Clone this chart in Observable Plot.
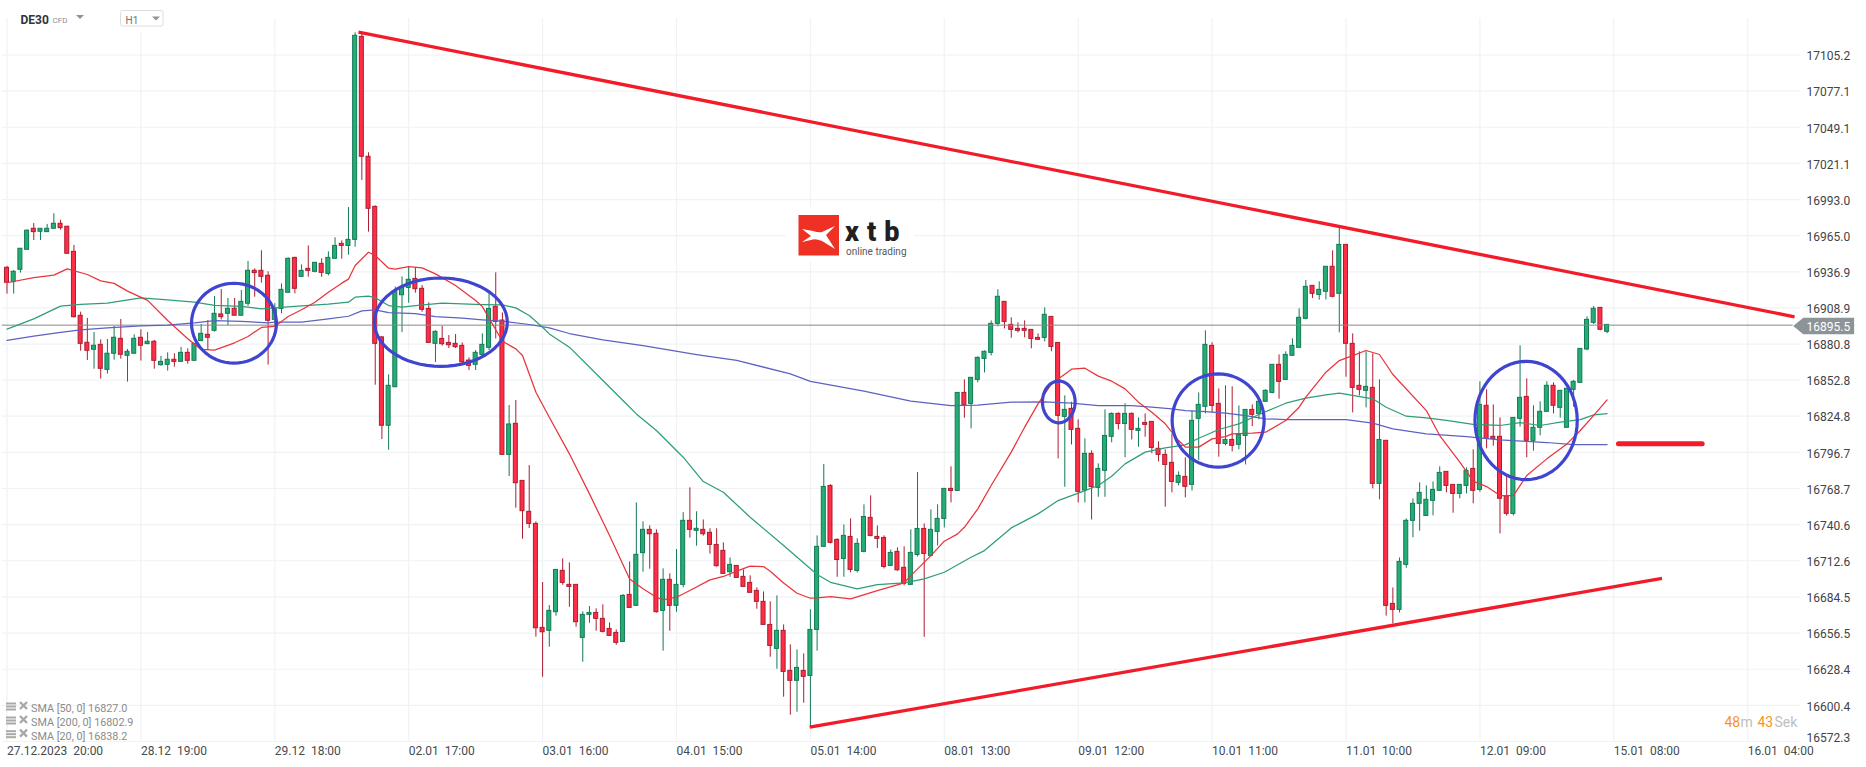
<!DOCTYPE html>
<html><head><meta charset="utf-8">
<script src="https://cdn.jsdelivr.net/npm/d3@7"></script>
<script src="https://cdn.jsdelivr.net/npm/@observablehq/plot@0.6"></script>
<style>html,body{margin:0;padding:0;background:#fff}svg{display:block}</style>
</head><body><div id="chart"></div>
<script>
const opens=[16940.0,16928.9,16938.5,16954.0,16970.3,16968.0,16967.7,16970.3,16974.2,16971.9,
16952.4,16902.8,16881.8,16876.4,16880.2,16860.8,16873.3,16884.9,16871.7,16873.3,
16885.7,16880.8,16882.6,16864.4,16864.7,16868.6,16867.0,16874.0,16867.8,16883.1,
16888.0,16891.1,16903.8,16904.3,16908.2,16902.8,16912.1,16937.7,16937.7,16933.8,
16899.6,16908.1,16920.6,16947.7,16933.0,16939.2,16936.9,16943.1,16935.3,16947.0,
16958.6,16957.0,16961.7,17119.3,17026.2,16987.3,16886.0,16817.4,16847.3,16918.7,
16924.4,16931.4,16923.7,16908.1,16881.0,16884.8,16881.7,16881.0,16879.4,16868.0,
16864.7,16872.4,16877.9,16909.7,16899.1,16794.8,16818.9,16774.6,16750.6,16741.2,
16660.5,16658.2,16672.7,16704.8,16693.9,16693.9,16652.7,16670.6,16672.1,16667.5,
16659.7,16656.6,16649.6,16686.1,16677.6,16718.5,16736.6,16733.5,16673.7,16697.8,
16677.6,16693.9,16743.6,16735.8,16736.6,16734.3,16724.9,16720.3,16703.7,16708.6,
16700.1,16695.4,16689.2,16680.7,16662.8,16644.2,16658.2,16627.1,16619.4,16627.1,
16623.2,16658.9,16723.4,16770.7,16728.8,16714.0,16731.1,16704.7,16719.5,16745.9,
16731.1,16730.3,16708.6,16719.5,16707.1,16693.9,16717.1,16737.3,16716.4,16735.0,
16745.1,16768.4,16766.8,16842.9,16834.4,16853.0,16869.3,16874.0,16896.5,16913.6,
16895.7,16892.6,16892.6,16891.8,16885.6,16885.6,16901.9,16881.7,16824.3,16830.5,
16815.0,16767.1,16795.6,16769.2,16782.4,16808.8,16826.6,16818.8,16826.6,16813.4,
16819.6,16820.4,16799.5,16794.8,16788.6,16773.1,16777.7,16771.5,16822.8,16832.1,
16879.4,16834.4,16803.3,16806.4,16802.6,16809.5,16829.7,16826.6,16836.0,16842.9,
16864.7,16853.0,16871.7,16877.9,16900.4,16926.0,16919.0,16921.4,16940.8,16919.8,
16957.8,16881.0,16848.4,16844.5,16846.8,16772.3,16805.7,16679.1,16674.5,16709.4,
16743.6,16756.8,16747.4,16759.1,16766.9,16781.6,16771.5,16764.5,16770.7,16783.9,
16767.6,16832.9,16808.8,16808.8,16762.7,16749.0,16822.8,16839.8,16805.7,16815.8,
16828.2,16848.4,16831.3,16815.8,16845.3,16850.7,16876.6,16897.3,16908.9,16890.3];
const closes=[16928.4,16936.9,16954.8,16968.8,16967.7,16970.3,16970.3,16974.2,16970.8,16950.9,
16901.7,16881.0,16875.6,16879.5,16861.6,16873.3,16885.7,16872.5,16874.8,16884.9,
16879.5,16882.6,16867.8,16867.0,16868.6,16867.0,16874.0,16867.8,16881.0,16888.8,
16885.7,16904.3,16901.7,16908.2,16902.8,16913.6,16937.7,16935.9,16933.0,16898.9,
16908.2,16922.9,16947.0,16923.7,16937.6,16937.6,16943.9,16936.1,16947.7,16957.0,
16957.0,16961.7,17120.1,17026.2,16985.8,16881.0,16817.4,16848.4,16921.1,16925.0,
16930.7,16923.4,16907.4,16881.7,16890.3,16880.7,16879.9,16878.4,16866.5,16863.9,
16874.0,16880.2,16908.1,16898.0,16794.8,16818.4,16772.8,16751.1,16741.2,16660.2,
16657.1,16673.7,16705.5,16695.4,16692.3,16664.9,16670.6,16672.1,16667.5,16657.4,
16654.3,16648.9,16685.3,16676.0,16717.2,16736.6,16733.2,16672.7,16697.8,16677.6,
16693.9,16743.6,16736.6,16737.4,16733.2,16724.9,16708.4,16702.4,16709.4,16699.3,
16692.3,16687.7,16680.7,16662.8,16646.5,16658.2,16626.3,16619.4,16629.4,16622.5,
16658.9,16723.4,16769.9,16726.5,16713.2,16731.9,16705.5,16725.7,16746.6,16731.9,
16729.6,16707.8,16718.7,16705.2,16694.6,16718.7,16737.3,16717.9,16736.6,16745.1,
16768.4,16766.8,16842.9,16833.6,16854.6,16870.1,16874.8,16896.5,16917.5,16898.0,
16891.8,16891.1,16891.1,16884.8,16884.1,16903.5,16878.6,16825.1,16829.7,16814.2,
16766.1,16795.6,16769.9,16783.9,16809.5,16826.6,16818.8,16826.6,16814.2,16815.0,
16818.1,16800.2,16794.8,16787.0,16773.8,16778.5,16770.0,16821.2,16833.6,16880.2,
16832.8,16803.3,16806.4,16801.8,16810.3,16829.7,16825.9,16836.0,16844.5,16864.7,
16851.5,16872.4,16879.4,16901.2,16925.2,16919.8,16922.9,16940.8,16917.5,16957.8,
16881.0,16846.8,16845.3,16847.6,16772.3,16806.4,16677.6,16674.5,16711.7,16743.6,
16756.8,16765.3,16759.9,16767.6,16780.8,16770.7,16764.5,16771.5,16782.4,16766.9,
16833.6,16807.2,16807.2,16760.7,16749.0,16823.5,16839.1,16805.7,16815.8,16828.2,
16848.4,16832.9,16844.5,16846.1,16851.5,16877.1,16899.6,16908.2,16891.9,16895.7];
const highs=[16941.1,16937.9,16954.8,16969.5,16974.4,16970.3,16973.7,16982.0,16976.8,16971.9,
16957.4,16905.6,16900.7,16889.8,16884.1,16884.4,16894.5,16899.9,16876.6,16888.0,
16891.9,16889.8,16883.6,16871.2,16874.0,16873.3,16878.2,16877.1,16881.0,16896.0,
16899.1,16917.8,16923.2,16916.2,16916.2,16922.4,16944.9,16939.2,16953.2,16936.9,
16912.1,16927.5,16947.7,16948.2,16942.3,16957.0,16943.9,16947.0,16952.4,16963.3,
16960.9,16986.8,17122.4,17121.6,17029.3,16988.1,16886.5,16856.9,16925.0,16933.0,
16940.2,16940.2,16926.3,16912.8,16891.1,16894.4,16887.4,16888.2,16881.7,16870.1,
16875.8,16888.7,16919.8,16936.1,16905.0,16833.1,16837.0,16774.6,16786.5,16742.8,
16695.7,16677.8,16705.5,16714.1,16711.0,16693.9,16672.9,16677.1,16675.3,16678.4,
16664.4,16658.9,16686.4,16711.7,16757.5,16742.8,16739.7,16736.6,16706.3,16702.4,
16721.3,16750.0,16769.2,16750.6,16744.3,16737.4,16737.4,16726.5,16714.8,16708.6,
16705.5,16700.9,16691.6,16688.4,16680.7,16685.3,16662.8,16647.3,16643.4,16640.3,
16674.5,16731.9,16787.3,16771.5,16729.6,16740.4,16745.1,16729.6,16756.0,16763.0,
16739.6,16731.9,16721.0,16722.6,16723.4,16736.6,16781.1,16741.2,16752.1,16756.0,
16768.4,16785.5,16842.9,16853.0,16854.6,16870.9,16875.5,16898.8,16922.9,16913.6,
16901.2,16897.3,16898.8,16891.8,16888.7,16908.9,16901.9,16881.7,16840.6,16835.7,
16822.0,16807.2,16797.9,16787.8,16829.7,16827.4,16827.4,16834.4,16827.4,16823.5,
16826.6,16820.4,16804.9,16798.7,16811.1,16781.6,16792.5,16829.0,16842.9,16891.1,
16881.8,16846.0,16848.4,16847.6,16832.8,16829.7,16833.6,16836.0,16845.3,16864.7,
16872.4,16874.8,16884.9,16908.2,16930.2,16926.0,16929.1,16940.8,16953.2,16971.6,
16957.8,16888.7,16874.8,16874.8,16873.2,16853.0,16805.7,16691.5,16714.8,16745.1,
16760.6,16773.1,16770.7,16773.8,16785.5,16781.6,16771.5,16771.5,16784.7,16798.7,
16851.5,16845.3,16833.6,16823.5,16778.8,16823.5,16879.4,16853.8,16832.9,16836.0,
16851.5,16850.7,16844.5,16846.1,16852.5,16877.1,16901.9,16910.0,16908.9,16895.7];
const lows=[16919.6,16919.6,16935.9,16954.0,16961.2,16961.2,16967.7,16970.3,16969.3,16950.9,
16900.9,16875.3,16868.1,16861.3,16853.6,16857.5,16868.3,16869.1,16851.3,16873.3,
16867.6,16880.2,16861.3,16863.7,16859.8,16862.9,16867.0,16865.2,16867.8,16882.8,
16875.8,16890.1,16899.6,16895.0,16902.8,16902.8,16910.0,16917.2,16928.1,16864.5,
16895.0,16904.3,16920.6,16919.8,16932.7,16932.7,16936.1,16932.7,16933.8,16946.7,
16946.7,16949.8,16956.0,17007.8,16967.7,16848.9,16806.7,16798.4,16847.3,16889.8,
16912.5,16920.3,16905.5,16881.7,16866.5,16879.2,16877.3,16877.3,16865.4,16860.3,
16860.3,16872.4,16875.8,16884.8,16794.8,16778.0,16753.4,16729.3,16737.6,16653.3,
16622.2,16645.5,16669.6,16693.6,16676.5,16661.0,16633.8,16664.1,16657.9,16656.6,
16653.8,16647.0,16649.6,16676.0,16677.6,16703.7,16706.0,16671.9,16642.4,16657.9,
16672.7,16691.6,16730.1,16723.9,16731.7,16717.7,16707.6,16702.2,16699.8,16699.3,
16692.3,16687.7,16675.0,16662.8,16637.7,16628.4,16606.7,16592.7,16595.0,16602.0,
16582.9,16642.4,16723.4,16725.7,16699.8,16699.8,16703.2,16703.2,16718.7,16731.1,
16722.1,16706.3,16708.6,16704.5,16693.1,16693.9,16715.6,16653.2,16715.6,16724.1,
16738.1,16757.5,16766.8,16823.2,16815.0,16850.7,16858.4,16871.6,16894.2,16892.6,
16885.4,16889.5,16885.6,16877.1,16884.1,16882.5,16874.8,16791.7,16769.7,16802.5,
16757.5,16757.5,16744.3,16761.9,16761.9,16804.1,16814.2,16792.5,16806.4,16800.7,
16808.5,16795.6,16789.4,16754.2,16765.3,16770.7,16761.4,16766.8,16790.4,16826.6,
16827.4,16793.0,16801.8,16797.1,16798.7,16787.0,16816.8,16822.0,16835.4,16842.2,
16838.0,16853.0,16871.7,16877.9,16899.6,16916.2,16914.9,16915.1,16916.7,16889.5,
16855.1,16827.4,16840.6,16831.3,16768.4,16759.9,16669.6,16663.6,16672.1,16706.8,
16730.4,16735.5,16747.4,16747.4,16766.9,16765.3,16749.5,16760.7,16764.5,16756.8,
16765.8,16799.5,16801.5,16733.5,16747.2,16747.4,16816.3,16792.5,16797.7,16809.6,
16828.2,16826.6,16823.3,16815.8,16831.8,16850.7,16875.6,16896.0,16891.1,16888.8];

const sma20Bars=[0,4,7,9,12,14,16,18,21,24,27,29,31,34,36,38,40,42,44,46,48,50,51,52,54,55,57,58,60,62,64,67,70,71,74,76,77,79,81,84,87,90,93,95,97,98,100,102,105,107,109,111,113,114,116,118,120,121,123,126,130,134,135,138,140,142,143,145,147,150,152,154,156,159,161,163,165,167,169,171,173,175,176,178,180,182,183,186,188,191,193,194,197,199,201,203,205,207,212,214,217,219,221,223,225,227,230,233,235,237,239];
const sma20Values=[16928.4,16932.3,16934.3,16939.2,16934.8,16929.9,16927.9,16921.9,16914.7,16899.1,16884.9,16876.6,16876.1,16881.8,16886.7,16893.7,16894.5,16902.2,16907.4,16913.3,16921.1,16928.1,16931.2,16941.8,16952.1,16949.5,16939.7,16938.9,16941.0,16940.0,16935.3,16926.3,16914.6,16909.9,16883.0,16877.1,16871.9,16843.4,16824.0,16795.6,16764.5,16732.2,16698.5,16690.8,16684.3,16682.2,16684.3,16689.5,16697.8,16700.4,16704.5,16708.4,16708.1,16704.5,16695.4,16687.4,16683.5,16683.8,16684.8,16683.0,16689.4,16695.4,16701.1,16716.6,16727.8,16733.5,16738.6,16752.9,16771.0,16796.9,16816.3,16834.4,16849.9,16861.3,16862.1,16855.9,16852.0,16846.0,16835.7,16827.9,16818.9,16805.9,16800.8,16800.8,16807.2,16809.0,16811.1,16811.6,16812.4,16821.5,16831.8,16839.6,16859.0,16868.0,16871.9,16875.8,16872.7,16857.2,16829.2,16809.8,16789.1,16774.4,16770.2,16763.2,16763.2,16778.8,16791.7,16803.3,16813.7,16825.4,16837.5];
const sma50Bars=[0,4,8,11,15,20,24,28,31,35,38,40,44,48,51,52,54,55,57,59,61,65,68,71,74,76,78,80,81,84,89,92,94,97,101,104,107,111,116,121,123,127,130,134,137,140,144,146,150,154,157,161,163,165,167,170,173,176,178,181,184,187,191,194,197,199,201,204,206,209,212,215,219,223,226,229,232,235,237,239];
const sma50Values=[16892.4,16900.4,16910.3,16911.6,16912.6,16916.7,16915.2,16913.4,16910.8,16910.0,16908.2,16909.0,16910.5,16911.8,16913.3,16917.2,16918.0,16916.7,16910.7,16909.4,16910.7,16912.5,16912.0,16911.5,16911.2,16908.9,16903.0,16893.9,16888.7,16878.4,16852.5,16837.0,16826.6,16813.7,16793.0,16774.1,16765.8,16746.4,16724.4,16701.9,16695.9,16690.7,16694.1,16695.4,16698.5,16703.7,16715.3,16720.5,16738.1,16749.0,16759.3,16767.1,16771.0,16778.2,16787.8,16796.9,16800.2,16802.6,16807.7,16814.5,16818.9,16826.1,16834.9,16838.8,16841.4,16842.7,16840.9,16838.3,16831.8,16824.8,16823.5,16821.5,16818.4,16817.6,16819.9,16817.6,16820.2,16822.2,16825.9,16826.9];
const sma200Bars=[0,4,8,11,15,20,24,28,31,35,39,40,44,48,51,53,55,57,61,64,68,71,74,78,81,84,89,95,103,109,117,120,128,135,141,145,150,155,159,163,168,171,174,176,179,182,185,188,191,200,204,207,212,218,223,227,230,234,239];
const sma200Values=[16883.6,16887.0,16889.8,16891.9,16893.4,16895.0,16895.5,16897.3,16899.1,16898.4,16897.3,16897.8,16897.8,16900.4,16902.4,16906.6,16907.4,16905.3,16904.5,16902.2,16900.9,16899.6,16898.6,16896.0,16893.4,16889.0,16884.1,16879.6,16872.7,16868.1,16857.7,16851.8,16844.3,16836.5,16833.1,16833.4,16835.7,16835.9,16834.9,16833.1,16833.1,16831.8,16830.5,16829.2,16828.4,16827.2,16825.3,16822.8,16822.2,16822.2,16819.4,16815.0,16811.1,16809.0,16806.5,16805.2,16804.4,16802.8,16802.8];

const priceTicks=[17105.2,17077.1,17049.1,17021.1,16993.0,16965.0,16936.9,16908.9,16880.8,16852.8,16824.8,16796.7,16768.7,16740.6,16712.6,16684.5,16656.5,16628.4,16600.4,16572.3];
const timeBars=[0,20,40,60,80,100,120,140,160,180,200,220,240,260];
const timeLabels=["27.12.2023\u00a0\u00a020:00","28.12\u00a0\u00a019:00","29.12\u00a0\u00a018:00","02.01\u00a0\u00a017:00","03.01\u00a0\u00a016:00","04.01\u00a0\u00a015:00","05.01\u00a0\u00a014:00","08.01\u00a0\u00a013:00","09.01\u00a0\u00a012:00","10.01\u00a0\u00a011:00","11.01\u00a0\u00a010:00","12.01\u00a0\u00a009:00","15.01\u00a0\u00a008:00","16.01\u00a0\u00a004:00"];
const legendLabels=["SMA [50,\u00a00] 16827.0","SMA [200,\u00a00] 16802.9","SMA [20,\u00a00] 16838.2"];
const lastPrice=16895.5;

// drawn annotations, in bar / price units
const topTrend=[[52.5,17123],[267,16902]];
const bottomTrend=[[119.9,16583.4],[247.2,16699]];
const targetLevel=[[240.7,16803.4],[253.2,16803.4]];
const ellipseBars=[33.9,64.8,157.1,180.9,226.9];
const ellipsePrices=[16897,16897.8,16835.9,16821.5,16821.5];
const ellipseBarRadii=[6.34,9.93,2.44,6.87,7.64];
const ellipsePriceRadii=[31,34.3,16.2,36.2,45.9];

const bars=opens.map((o,i)=>({i,o,c:closes[i],h:highs[i],l:lows[i]}));
const up=bars.filter(b=>b.c>=b.o), down=bars.filter(b=>b.c<b.o);
const series=(xs,ys)=>xs.map((x,k)=>({x,y:ys[k]}));
const ellipse=k=>d3.range(0,361,6).map(a=>({
  x:ellipseBars[k]+ellipseBarRadii[k]*Math.cos(a*Math.PI/180),
  y:ellipsePrices[k]+ellipsePriceRadii[k]*Math.sin(a*Math.PI/180)}));

const GREEN="#25ad75",GREEN_D="#127a55",RED="#ff2d45",RED_D="#ad1c30";
const BAR=0.3;
const body=(data,fill,stroke)=>Plot.rect(data,{x1:d=>d.i-BAR,x2:d=>d.i+BAR,y1:d=>Math.min(d.o,d.c),y2:d=>Math.max(d.o,d.c),fill,stroke,strokeWidth:1,inset:0});
const wick=(data,stroke)=>Plot.ruleX(data,{x:"i",y1:"l",y2:"h",stroke,strokeWidth:1});
const smaLine=(data,stroke)=>Plot.line(data,{x:"x",y:"y",stroke,strokeWidth:1.25,strokeLinejoin:"round",curve:"linear"});
const trend=(pts,w,cap)=>Plot.line(pts,{x:d=>d[0],y:d=>d[1],stroke:"#f11b29",strokeWidth:w,strokeLinecap:cap||"butt"});
const label=(t,px,py,o={})=>Plot.text([t],{text:d=>d,frameAnchor:"top-left",dx:px,dy:py,textAnchor:"start",lineAnchor:"middle",...o});

function background(index,scales,values,dim){
  const g=d3.create("svg:g");
  g.append("rect").attr("x",786).attr("y",208).attr("width",128).attr("height",54).attr("fill","#fff");
  g.append("rect").attr("x",100).attr("y",0).attr("width",80).attr("height",32).attr("fill","#fff");
  g.append("rect").attr("x",798.5).attr("y",215).attr("width",40.5).attr("height",40.5).attr("fill","#ee3124");
  g.append("path").attr("fill","#fff").attr("d","M802 229 L813 231 Q819 233 822 232 L835 226 L826 235 L835 249 L822 241 Q815 238 811 240 L802 242 L811 236 Z");
  g.append("text").text("xtb").attr("x",845).attr("y",240.5).attr("text-anchor","start").attr("font-size",27).attr("font-weight",900).attr("letter-spacing",8).attr("fill","#231f20");
  g.append("text").text("online trading").attr("x",846).attr("y",254.5).attr("text-anchor","start").attr("font-size",10).attr("fill","#58595b");
  // H1 selector box and the small triangles
  g.append("rect").attr("x",120.5).attr("y",10.5).attr("width",42.5).attr("height",15.5).attr("rx",2).attr("fill","#fff").attr("stroke","#dcdfe1");
  for(const [a,b,c] of [[76,84,15],[152,160,16.5]])
    g.append("path").attr("fill","#8f9699").attr("d",`M${a} ${c} L${b} ${c} L${(a+b)/2} ${c+4} Z`);
  // legend icons
  [708,722,735.7].forEach(y=>{
    for(const dy of [-3.5,-0.5,2.5]) g.append("rect").attr("x",6).attr("y",y+dy-2).attr("width",10).attr("height",2).attr("fill","#a9a9a9");
    g.append("path").attr("stroke","#a9a9a9").attr("stroke-width",2.4).attr("d",`M20 ${y-6} L27 ${y+1} M27 ${y-6} L20 ${y+1}`);
  });
  return g.node();
}

const plot=Plot.plot({
  width:1866,height:767,
  marginTop:0,marginRight:0,marginBottom:0,marginLeft:0,
  x:{type:"linear",domain:[0,260],range:[6.5,1747.2],axis:null},
  y:{type:"linear",domain:[16572.3,17105.2],range:[741,54.5],axis:null},
  style:{fontFamily:"Roboto, sans-serif",background:"#fff"},
  marks:[
    Plot.ruleY(priceTicks,{x1:-0.7,x2:267.9,stroke:"#f1f2f3",strokeWidth:1.2}),
    Plot.ruleX(timeBars,{y1:16572.3,y2:17133.6,stroke:"#f1f2f3",strokeWidth:1.2}),
    background,
    wick(up,GREEN_D),wick(down,RED_D),
    body(up,GREEN,GREEN_D),body(down,RED,RED_D),
    Plot.ruleY([lastPrice],{x1:-0.7,x2:266.8,stroke:"#85898b",strokeWidth:1}),
    smaLine(series(sma200Bars,sma200Values),"#5d62c2"),
    smaLine(series(sma50Bars,sma50Values),"#2f9e78"),
    smaLine(series(sma20Bars,sma20Values),"#e8353a"),
    ...ellipseBars.map((_,k)=>Plot.line(ellipse(k),{x:"x",y:"y",stroke:"#3f45cf",strokeWidth:3.2})),
    trend(topTrend,3.3),trend(bottomTrend,3.3),trend(targetLevel,5,"round"),
    Plot.text(priceTicks.slice(0,-1),{text:d=>d.toFixed(1),y:d=>d,frameAnchor:"right",dx:-60,dy:1.4,textAnchor:"start",fontSize:12,fill:"#3f4447"}),
    Plot.text(priceTicks.slice(-1),{text:d=>d.toFixed(1),y:d=>d,frameAnchor:"right",dx:-60,dy:-3,textAnchor:"start",fontSize:12,fill:"#3f4447"}),
    Plot.line([[266.8,16894.9],[268.3,16901.2],[275.9,16901.2],[275.9,16888.5],[268.3,16888.5],[266.8,16894.9]],{x:d=>d[0],y:d=>d[1],fill:"#8c9497",stroke:"none"}),
    Plot.text([lastPrice],{text:d=>d.toFixed(1),frameAnchor:"top-left",dx:1806,dy:326.5,textAnchor:"start",lineAnchor:"middle",fontSize:12,fill:"#fff"}),
    Plot.text(timeBars,{x:d=>d,text:(d,i)=>timeLabels[i],frameAnchor:"top",dy:750.5,textAnchor:"start",lineAnchor:"middle",fontSize:12,fill:"#454b4f"}),
    label("DE30",20,19.5,{fontSize:12,fontWeight:"700",fill:"#2f3538"}),
    label("CFD",52,20,{fontSize:8,fill:"#8a8f92"}),
    label("H1",125,20,{fontSize:10,fill:"#6e7478"}),
    ...legendLabels.map((t,k)=>label(t,30.5,[708,722,735.7][k],{fontSize:10.8,fill:"#8b8b8b"})),
    label("48",1724,722,{fontSize:14,fill:"#f7941d"}),
    label("m",1740,722,{fontSize:14,fill:"#bcbfc1"}),
    label("43",1757,722,{fontSize:14,fill:"#f7941d"}),
    label("Sek",1774,722,{fontSize:14,fill:"#bcbfc1"})
  ]
});
document.getElementById("chart").appendChild(plot);
</script></body></html>
